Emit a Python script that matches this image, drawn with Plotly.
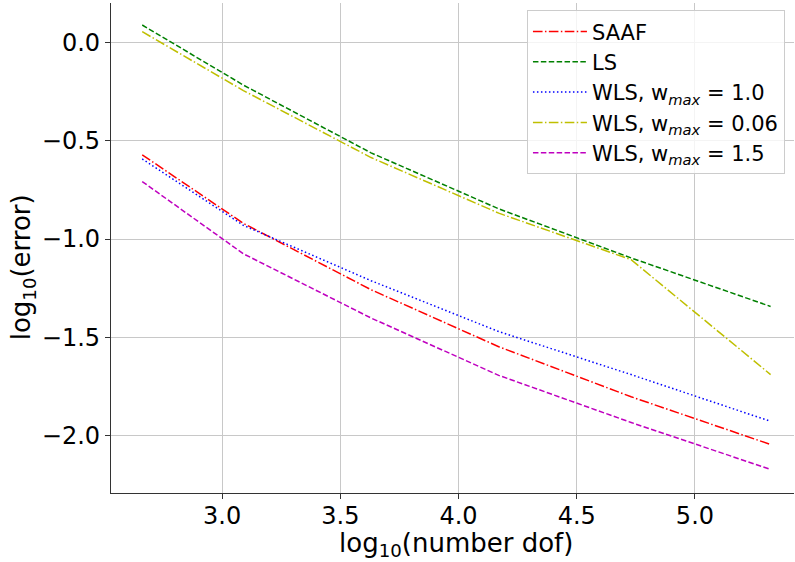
import plotly.graph_objects as go

log_dof = [2.662, 3.09, 3.63, 4.17, 4.73, 5.32]
saaf = [-0.571, -0.920, -1.258, -1.548, -1.803, -2.046]
ls = [0.090, -0.216, -0.561, -0.846, -1.096, -1.343]
wls_10 = [-0.592, -0.930, -1.212, -1.471, -1.690, -1.928]
wls_006 = [0.056, -0.244, -0.585, -0.868, -1.105, -1.690]
wls_15 = [-0.707, -1.075, -1.402, -1.694, -1.934, -2.173]

names = ["SAAF", "LS", "WLS, w<sub><i>max</i></sub> = 1.0",
         "WLS, w<sub><i>max</i></sub> = 0.06", "WLS, w<sub><i>max</i></sub> = 1.5"]
series = [saaf, ls, wls_10, wls_006, wls_15]
colors = ["#ff0000", "#008000", "#0000ff", "#bfbf00", "#bf00bf"]
dashes = ["9.6px,2.4px,1.5px,2.4px", "5.5px,2.4px", "1.5px,2.5px",
          "9.6px,2.4px,1.5px,2.4px", "5.5px,2.4px"]

fig = go.Figure()
for i, (n, s, c, d) in enumerate(zip(names, series, colors, dashes)):
    fig.add_trace(go.Scatter(x=log_dof, y=s, mode="lines", name=n,
                             line=dict(color=c, width=1.5, dash=d)))

font = "DejaVu Sans"
fig.update_layout(
    width=795, height=562,
    margin=dict(l=111, r=1, t=3, b=69),
    paper_bgcolor="white", plot_bgcolor="white",
    font=dict(family=font, size=22, color="black"),
    showlegend=True,
    legend=dict(x=0.609, y=0.985, xanchor="left", yanchor="top",
                bgcolor="rgba(255,255,255,0.8)", bordercolor="#cccccc",
                borderwidth=1, font=dict(family=font, size=21),
                itemwidth=54),
    xaxis=dict(range=[2.530, 5.419], tickvals=[3.0, 3.5, 4.0, 4.5, 5.0],
               tickformat=".1f", showgrid=True, gridcolor="#c8c8c8", gridwidth=1,
               showline=True, linecolor="#333333", linewidth=1.2,
               ticks="outside", ticklen=5, tickcolor="#333333",
               zeroline=False, tickfont=dict(size=24), automargin=False,
               ticklabelstandoff=-4),
    yaxis=dict(range=[-2.293, 0.202], tickvals=[0.0, -0.5, -1.0, -1.5, -2.0],
               tickformat=".1f", showgrid=True, gridcolor="#c8c8c8", gridwidth=1,
               showline=True, linecolor="#333333", linewidth=1.2,
               ticks="outside", ticklen=5, tickcolor="#333333",
               zeroline=False, tickfont=dict(size=24), automargin=False),
    annotations=[
        dict(text="log<sub>10</sub>(number dof)", xref="paper", yref="paper",
             x=0.505, y=-0.106, xanchor="center", yanchor="middle",
             showarrow=False, font=dict(size=26)),
        dict(text="log<sub>10</sub>(error)", xref="paper", yref="paper",
             x=-0.13, y=0.461, xanchor="center", yanchor="middle", textangle=-90,
             showarrow=False, font=dict(size=26)),
    ],
)
fig.write_html("out.html", config={"displayModeBar": False},
               post_script="document.body.style.margin='0';")
